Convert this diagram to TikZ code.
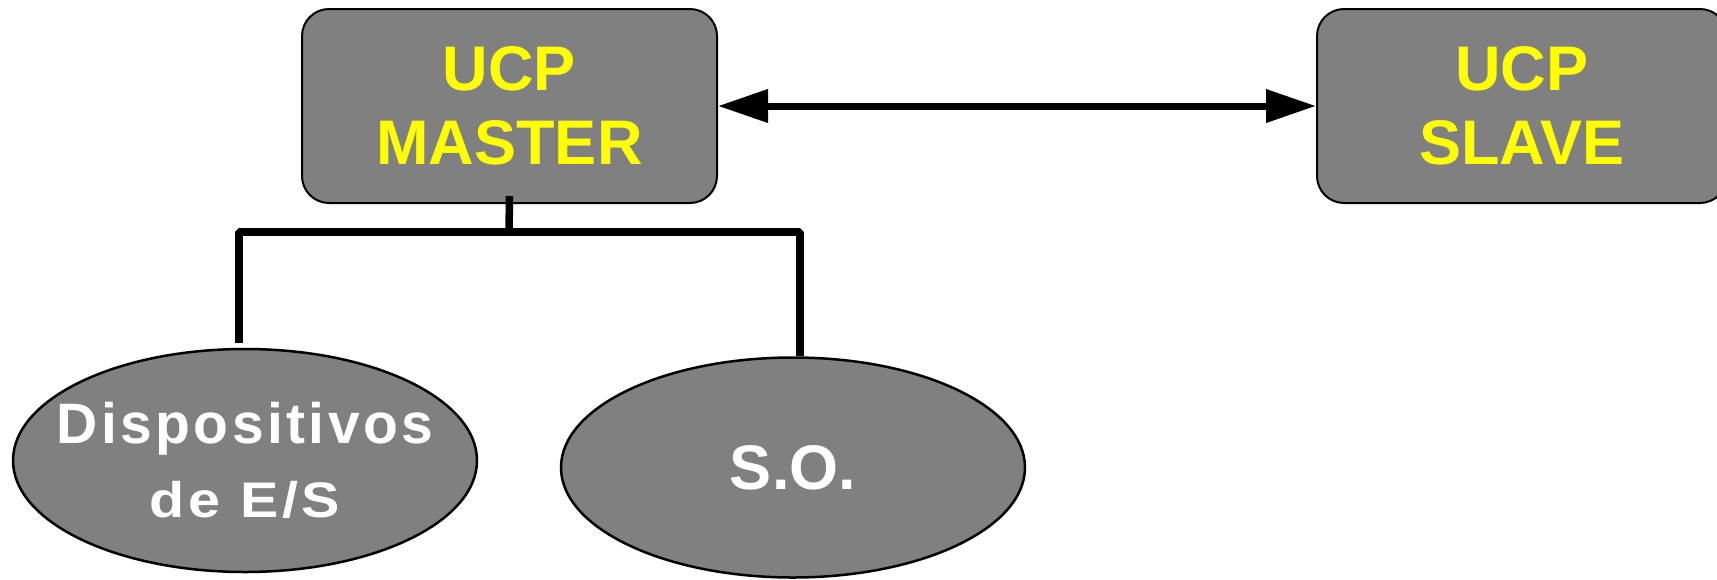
\documentclass[tikz,border=0pt]{standalone}
\usepackage{fontspec}
\setmainfont{Liberation Sans}
\usetikzlibrary{arrows.meta,shapes.geometric}
\definecolor{boxgray}{RGB}{128,128,128}
\definecolor{ucpyellow}{RGB}{255,255,0}
\tikzset{
  ucpbox/.style={draw=black, line width=2pt, fill=boxgray, rounded corners=27pt,
    inner sep=0pt, align=center, text=ucpyellow,
    font=\fontsize{63}{74}\selectfont\bfseries},
  oval/.style={ellipse, draw=black, line width=2.5pt, fill=boxgray, inner sep=0pt},
  ovaltext/.style={inner sep=0pt, align=center, text=white,
    font=\fontsize{63}{74}\selectfont\bfseries},
  conn/.style={draw=black, line width=7.5pt, line join=bevel},
  arr/.style={draw=black, line width=7pt,
    {Triangle[length=50pt,width=32pt]}-{Triangle[length=50pt,width=32pt]}}
}
\begin{document}
\begin{tikzpicture}[x=1pt,y=-1pt]
\useasboundingbox (0,0) rectangle (1717,579);
\node[ucpbox, minimum width=415pt, minimum height=194pt] (master) at (509.5,106) {UCP\\MASTER};
\node[ucpbox, minimum width=410pt, minimum height=194pt] (slave) at (1522,106) {UCP\\SLAVE};
\node[oval, minimum width=464pt, minimum height=223pt] (dev) at (245,460.5) {};
\node[ovaltext] (devtext) at (dev.center)
  {{\fontsize{57}{74}\selectfont\addfontfeature{LetterSpace=6}Dispositivos}\\
   {\fontsize{50}{74}\selectfont\scalebox{1.15}[1]{\addfontfeature{LetterSpace=6.5}de E/S}}};
\node[oval, minimum width=464pt, minimum height=220pt] (so) at (793,467.5) {};
\node[ovaltext] (sotext) at (so.center) {S.O.};
\coordinate (j) at (509,232);
\draw[arr] (master.east) -- (slave.west);
\draw[conn] ([yshift=8pt]master.south) -- (j);
\draw[conn] ([xshift=-6pt,yshift=5pt]dev.north) |- (j) -| ([xshift=7pt]so.north);
\end{tikzpicture}
\end{document}
